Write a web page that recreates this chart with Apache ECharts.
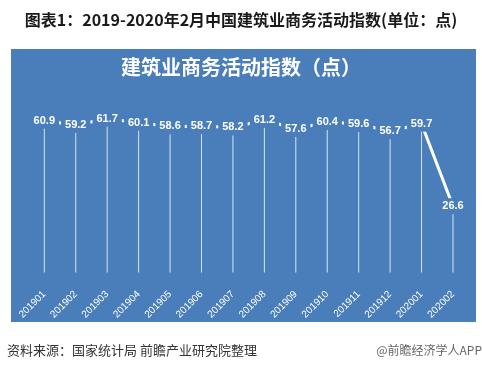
<!DOCTYPE html>
<html>
<head>
<meta charset="utf-8">
<script src="https://cdn.jsdelivr.net/npm/echarts@6/dist/echarts.min.js"></script>
<style>
html,body{margin:0;padding:0;background:#fff;}
#c{width:482px;height:372px;}
</style>
</head>
<body>
<div id="c"></div>
<script>
var categories = ['201901','201902','201903','201904','201905','201906','201907','201908','201909','201910','201911','201912','202001','202002'];
var values = [60.9, 59.2, 61.7, 60.1, 58.6, 58.7, 58.2, 61.2, 57.6, 60.4, 59.6, 56.7, 59.7, 26.6];
var mainTitle = '图表1：2019-2020年2月中国建筑业商务活动指数(单位：点)';
var panelTitle = '建筑业商务活动指数（点）';
var sourceText = '资料来源：国家统计局 前瞻产业研究院整理';
var brandText = '@前瞻经济学人APP';

var BLUE = '#4a7ebb';
var chart = echarts.init(document.getElementById('c'), null, {renderer: 'canvas'});
chart.setOption({
  backgroundColor: '#ffffff',
  animation: false,
  graphic: [
    {type: 'rect', shape: {x: 11, y: 49, width: 465, height: 273}, style: {fill: BLUE}, z: -10, silent: true},
    {type: 'text', left: 'center', top: 12, style: {text: mainTitle, fill: '#1a1a1a', font: 'bold 16px "Noto Sans CJK SC", sans-serif'}},
    {type: 'text', x: 241, y: 67, style: {text: panelTitle, fill: '#ffffff', font: 'bold 20px "Noto Sans CJK SC", sans-serif', textAlign: 'center', textVerticalAlign: 'middle'}},
    {type: 'text', x: 7, y: 350, style: {text: sourceText, fill: '#333333', font: '13px "Noto Sans CJK SC", sans-serif', textVerticalAlign: 'middle'}},
    {type: 'text', x: 482, y: 350, style: {text: brandText, fill: '#666666', font: '12px "Noto Sans CJK SC", sans-serif', textAlign: 'right', textVerticalAlign: 'middle'}}
  ],
  grid: {left: 28.6, right: 13.3, top: 98, bottom: 99.4},
  xAxis: {
    type: 'category',
    data: categories,
    boundaryGap: true,
    axisLine: {show: false},
    axisTick: {show: false},
    axisLabel: {color: '#ffffff', rotate: 45, fontSize: 10, margin: 20, fontFamily: 'Liberation Sans, Arial, sans-serif', interval: 0}
  },
  yAxis: {
    type: 'value', min: 0, max: 70,
    show: false,
    splitLine: {show: false}
  },
  series: [
    {
      type: 'bar',
      data: values,
      barWidth: 1,
      itemStyle: {color: '#d6e4f5'},
      silent: true,
      z: 1
    },
    {
      type: 'line',
      data: values,
      symbol: 'circle',
      symbolSize: 1,
      showSymbol: true,
      itemStyle: {color: 'rgba(255,255,255,0)'},
      lineStyle: {color: '#ffffff', width: 3},
      z: 2,
      labelLayout: {hideOverlap: false},
      label: {
        show: true,
        position: 'inside',
        color: '#ffffff',
        fontWeight: 'bold',
        fontSize: 11,
        fontFamily: 'Liberation Sans, Arial, sans-serif',
        backgroundColor: BLUE,
        padding: [3, 4, 2, 4]
      }
    }
  ]
});
</script>
</body>
</html>
